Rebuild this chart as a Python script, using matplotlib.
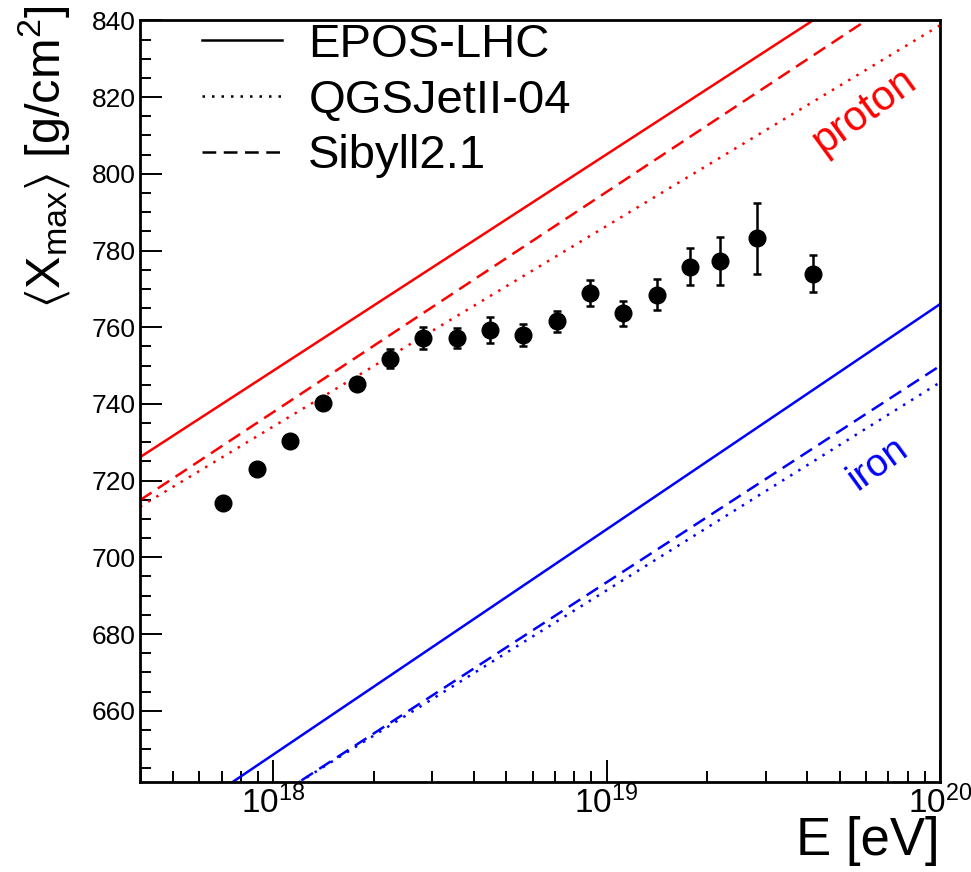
import numpy as np
import matplotlib
matplotlib.use("Agg")
import matplotlib.pyplot as plt
from matplotlib.ticker import MultipleLocator, LogLocator

plt.rcParams['font.family'] = ['Liberation Sans', 'DejaVu Sans']
plt.rcParams['mathtext.fontset'] = 'custom'
plt.rcParams['mathtext.rm'] = 'Liberation Sans'
plt.rcParams['mathtext.it'] = 'Liberation Sans:italic'
plt.rcParams['mathtext.default'] = 'regular'

# measured <Xmax> (log10 E, value, stat. error)
log_e = [17.85, 17.95, 18.05, 18.15, 18.25, 18.35, 18.45, 18.55, 18.65,
         18.75, 18.85, 18.95, 19.05, 19.15, 19.25, 19.34, 19.45, 19.62]
xmax = [714.1, 723.1, 730.3, 740.2, 745.3, 751.8, 757.1, 757.2, 759.2,
        757.9, 761.5, 768.9, 763.6, 768.5, 775.8, 777.3, 783.2, 774.0]
xmax_err = [1.0, 1.0, 1.0, 1.2, 1.5, 2.5, 2.9, 2.6, 3.4,
            2.9, 2.8, 3.3, 3.3, 4.1, 4.8, 6.3, 9.2, 4.8]

# model predictions at the two ends of the energy range
model_log_e = [17.6, 20.0]
proton_epos = [726.1, 861.5]
proton_qgsjet = [713.2, 838.7]
proton_sibyll = [714.9, 852.7]
iron_epos = [625.1, 766.0]
iron_qgsjet = [615.5, 745.6]
iron_sibyll = [614.5, 749.9]

fig = plt.figure(figsize=(9.71, 8.72), dpi=100)
ax = fig.add_axes([0.1442, 0.1036, 0.8238, 0.873])

e_model = 10 ** np.array(model_log_e)
dotted = (0, (1, 2.8))
dashed = (0, (5.5, 3))
lw = 1.8
ax.plot(e_model, proton_epos, color='red', lw=lw, ls='-')
ax.plot(e_model, proton_qgsjet, color='red', lw=lw, ls=dotted)
ax.plot(e_model, proton_sibyll, color='red', lw=lw, ls=dashed)
ax.plot(e_model, iron_epos, color='blue', lw=lw, ls='-')
ax.plot(e_model, iron_qgsjet, color='blue', lw=lw, ls=dotted)
ax.plot(e_model, iron_sibyll, color='blue', lw=lw, ls=dashed)

# legend entries (black)
ax.plot([], [], color='black', lw=lw, ls='-', label='EPOS-LHC')
ax.plot([], [], color='black', lw=lw, ls=dotted, label='QGSJetII-04')
ax.plot([], [], color='black', lw=lw, ls=dashed, label='Sibyll2.1')

ax.errorbar(10 ** np.array(log_e), xmax, yerr=xmax_err, fmt='o', color='black',
            ms=12, elinewidth=1.8, capsize=2.9, capthick=1.8, zorder=5)

ax.text(0.906, 0.881, 'proton', color='red', fontsize=30, rotation=36,
        ha='center', va='center', transform=ax.transAxes)
ax.text(0.9225, 0.418, 'iron', color='blue', fontsize=28, rotation=36,
        ha='center', va='center', transform=ax.transAxes)

ax.set_xscale('log')
ax.set_xlim(10 ** 17.6, 1e20)
ax.set_ylim(641.5, 840)
ax.yaxis.set_major_locator(MultipleLocator(20))
ax.yaxis.set_minor_locator(MultipleLocator(5))
ax.xaxis.set_major_locator(LogLocator(base=10))
ax.xaxis.set_minor_locator(LogLocator(base=10, subs=np.arange(2, 10)))

ax.tick_params(which='both', direction='in', top=False, right=False, width=1.4)
ax.tick_params(which='major', length=16)
ax.tick_params(which='minor', length=8)
ax.tick_params(axis='y', labelsize=19, pad=3)
ax.tick_params(axis='x', labelsize=24, pad=3)
for s in ax.spines.values():
    s.set_linewidth(2)

ax.set_xlabel('E [eV]', fontsize=38, loc='right', labelpad=-3)
ax.set_ylabel(r'$\langle X_{max}\rangle$ [g/cm$^{2}$]', fontsize=35, loc='top')
ax.yaxis.set_label_coords(-0.085, 1.02)

ax.legend(loc='upper left', bbox_to_anchor=(0.0775, 0.997), frameon=False,
          fontsize=34, handlelength=1.7, handletextpad=0.55, labelspacing=0.25,
          borderpad=0, borderaxespad=0)

fig.savefig('out.png', dpi=100)
